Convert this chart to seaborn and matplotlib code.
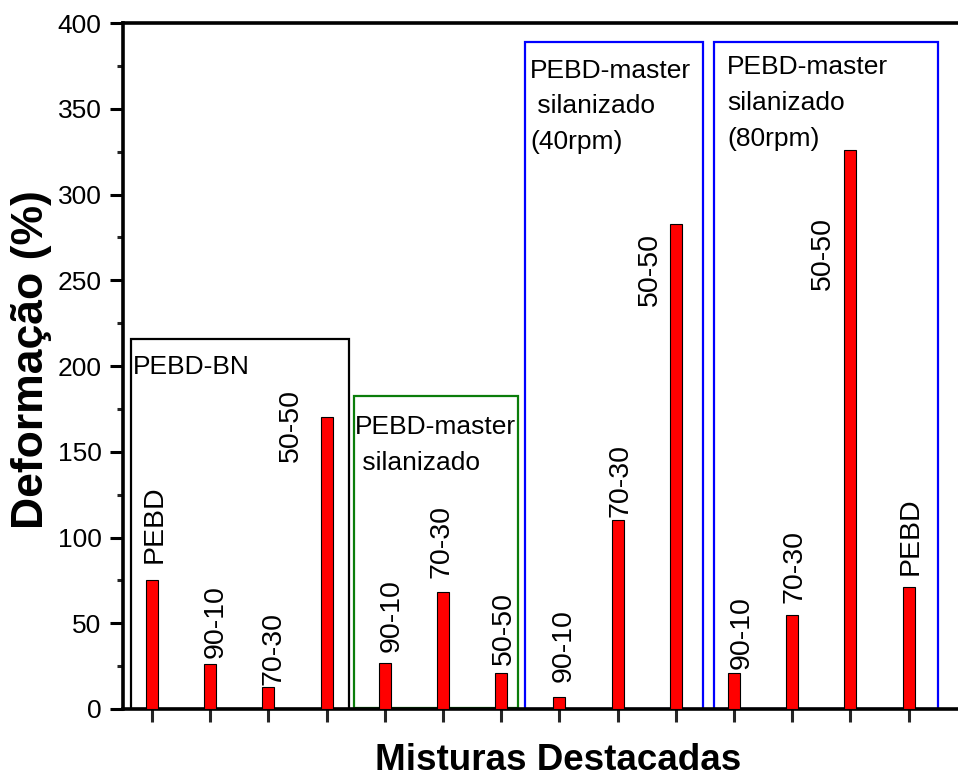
import matplotlib
matplotlib.use("Agg")
import matplotlib.pyplot as plt
from matplotlib.patches import Rectangle
from matplotlib.ticker import MultipleLocator
import pandas as pd
import seaborn as sns

# ---- data -------------------------------------------------------------
group_names = ["PEBD-BN",
               "PEBD-master\n silanizado",
               "PEBD-master\n silanizado\n(40rpm)",
               "PEBD-master\nsilanizado\n(80rpm)"]
group_sizes = [4, 3, 3, 4]
mixtures = ["PEBD", "90-10", "70-30", "50-50",
            "90-10", "70-30", "50-50",
            "90-10", "70-30", "50-50",
            "90-10", "70-30", "50-50", "PEBD"]
deformation = [75, 26, 13, 170,
               27, 68, 21,
               7, 110, 283,
               21, 55, 326, 71]
y_ticks = [0, 50, 100, 150, 200, 250, 300, 350, 400]

# ---- table ------------------------------------------------------------
group_of_bar = [g for g, n in zip(group_names, group_sizes) for _ in range(n)]
bar_keys = [f"{i:02d} {g.splitlines()[-1]} {m}"
            for i, (g, m) in enumerate(zip(group_of_bar, mixtures))]
df = pd.DataFrame({"bar": bar_keys, "mistura": mixtures,
                   "deformacao": deformation})

# ---- style ------------------------------------------------------------
sns.set_theme(style="white")
plt.rcParams["font.family"] = ["Liberation Sans", "DejaVu Sans"]
plt.rcParams["axes.edgecolor"] = "black"
plt.rcParams["axes.linewidth"] = 2.4

fig = plt.figure(figsize=(9.58, 7.78), dpi=100)
ax = fig.add_axes([0.1284, 0.0887, 0.8716, 0.8817])

sns.barplot(data=df, x="bar", y="deformacao", order=bar_keys,
            color="#ff0000", saturation=1, width=0.206,
            edgecolor="black", linewidth=0.8, ax=ax, zorder=3)

ax.set_xlim(-0.5, 13.85)
ax.set_ylim(0, 400)
ax.set_yticks(y_ticks)
ax.yaxis.set_minor_locator(MultipleLocator(25))
ax.set_xticks(range(len(bar_keys)))
ax.set_xticklabels([])

for side in ("left", "bottom", "top"):
    ax.spines[side].set_linewidth(2.6)
    ax.spines[side].set_color("black")
ax.spines["right"].set_visible(False)

ax.tick_params(axis="y", which="major", direction="out", length=9.5,
               width=2.2, labelsize=19, pad=6, left=True, colors="black")
ax.tick_params(axis="y", which="minor", direction="out", length=4.5,
               width=2.2, left=True)
ax.tick_params(axis="x", which="major", direction="out", length=9.5,
               width=2.2, bottom=True, top=False)

ax.set_ylabel("Deformação (%)", fontsize=32, fontweight="bold", color="black")
ax.yaxis.set_label_coords(-0.085, 0.509)
ax.set_xlabel("Misturas Destacadas", fontsize=26.5, fontweight="bold",
              color="black")
ax.xaxis.set_label_coords(0.521, -0.050)

# ---- group frames and titles -----------------------------------------
frames = [  # (x0, x1, y0, y1, colour)
    (-0.36, 3.385, 0.0, 215.7, "black"),
    (3.476, 6.284, 0.8, 182.7, "#0a7d0a"),
    (6.41, 9.46, 0.0, 389.0, "#0000ff"),
    (9.66, 13.5, 0.0, 389.0, "#0000ff"),
]
title_pos = [(-0.326, 206.4), (3.483, 171.4), (6.50, 379.3), (9.885, 381.3)]
for (x0, x1, y0, y1, col), name, (tx, ty) in zip(frames, group_names, title_pos):
    ax.add_patch(Rectangle((x0, y0), x1 - x0, y1 - y0, fill=False,
                           edgecolor=col, linewidth=1.6, zorder=2))
    ax.text(tx, ty, name, ha="left", va="top", fontsize=19,
            linespacing=1.62, color="black", zorder=4)

# ---- mixture labels beside each bar ----------------------------------
label_dx = [0.05, 0.09, 0.09, -0.62, 0.12, -0.02, 0.045,
            0.07, 0.045, -0.44, 0.125, 0.034, -0.47, 0.03]
label_y = [85, 30, 14, 144, 33.4, 76.2, 25.7,
           15.5, 112, 235, 23.3, 61.8, 244.3, 78.4]
for i, (m, dx, ly) in enumerate(zip(mixtures, label_dx, label_y)):
    ax.text(i + dx, ly, m, rotation=90, ha="center", va="bottom",
            fontsize=20.5, color="black", zorder=4)

fig.savefig("out.png", dpi=100)
